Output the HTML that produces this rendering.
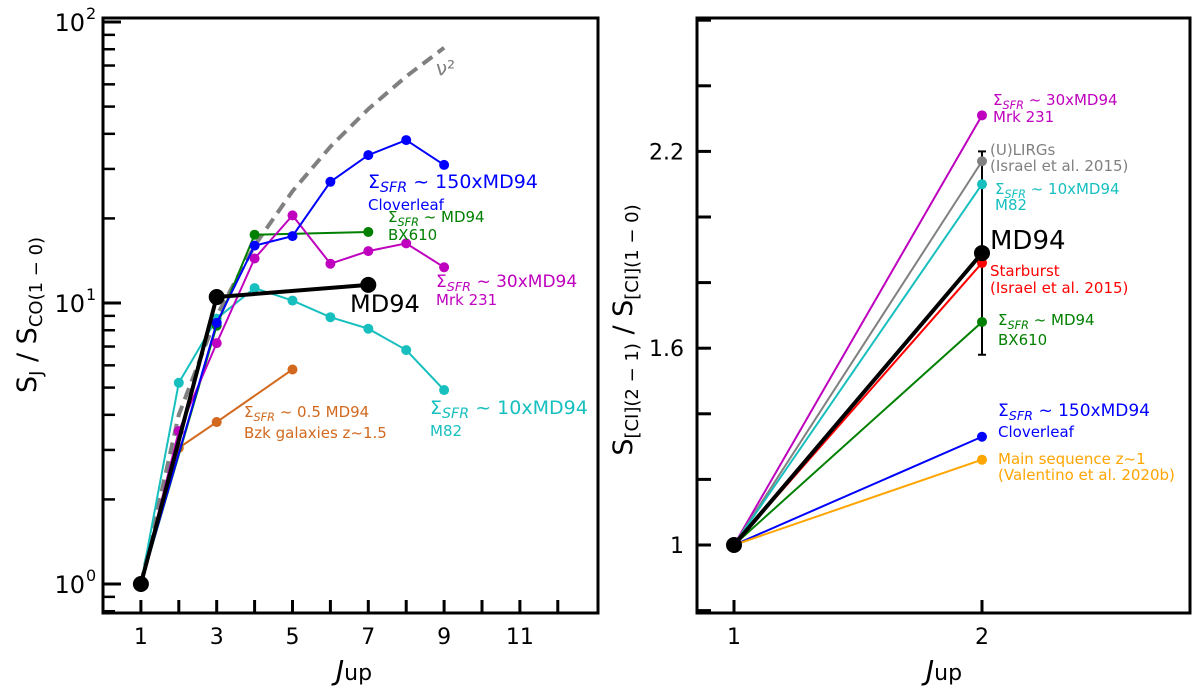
<!DOCTYPE html>
<html><head><meta charset="utf-8"><style>
body{margin:0;background:#fff}
svg{display:block;font-family:"DejaVu Sans","Liberation Sans",sans-serif}
</style></head><body>
<svg id="chart" width="1200" height="687" xmlns="http://www.w3.org/2000/svg"></svg>
<script>
// Left panel data (CO SLED)
const jBlue=[1,3,4,5,6,7,8,9], vBlue=[1,8.5,16,17.3,27,33.6,38,31];
const jGreen=[1,3,4,7], vGreen=[1,8.3,17.5,17.9];
const jMag=[1,2,3,4,5,6,7,8,9], vMag=[1,3.5,7.2,14.4,20.5,13.8,15.3,16.3,13.4];
const jCyan=[1,2,3,4,5,6,7,8,9], vCyan=[1,5.2,8.8,11.3,10.2,8.9,8.1,6.8,4.9];
const jOrange=[1,2,3,5], vOrange=[1,3.05,3.77,5.8];
const jBlack=[1,3,7], vBlack=[1,10.5,11.6];
const jNu=[1,2,3,4,5,6,7,8,9], vNu=[1,4,9,16,25,36,49,64,81];
const xTicksL=[1,3,5,7,9,11];
// Right panel data (CI ratio at J=2)
const rNames=['magenta','gray','cyan','red','green','blue','orange','black'];
const rValues=[2.31,2.17,2.10,1.86,1.68,1.33,1.26,1.89];
const rErr=[1.58,2.20];
const yTicksR=[1,1.6,2.2];

const svg=document.getElementById('chart');
const NS='http://www.w3.org/2000/svg';
function el(t,a,txt){const e=document.createElementNS(NS,t);for(const k in a)e.setAttribute(k,a[k]);if(txt!==undefined)e.textContent=txt;svg.appendChild(e);return e;}

const Lx=j=>103+j*37.9;
const Ly=v=>584-281*Math.log10(v);
const Rx=j=>734+(j-1)*248;
const Ry=v=>545-(v-1)*328;

let f=el('rect',{x:103,y:18,width:495,height:595,fill:'none',stroke:'#000','stroke-width':3});

for(let j=1;j<=12;j++){let t=el('line',{x1:Lx(j),x2:Lx(j),y1:613,y2:600,stroke:'#000','stroke-width':3});
}
xTicksL.forEach(j=>{let t=el('text',{x:Lx(j),y:644,'font-size':22,'text-anchor':'middle'},String(j));
});
for(let d=-1;d<=2;d++)for(let m=1;m<=9;m++){const v=m*Math.pow(10,d);if(v<0.8||v>100)continue;
const major=m===1;let t=el('line',{x1:103,x2:103+(major?18:12),y1:Ly(v),y2:Ly(v),stroke:'#000','stroke-width':major?3:2.5});
}
[[1,'0'],[10,'1'],[100,'2']].forEach(([v,e])=>{let t=el('text',{x:85,y:Ly(v)+9,'font-size':24,'text-anchor':'end'},'10');

let s=el('text',{x:86,y:Ly(v)-3,'font-size':16},e);});

function series(js,vs,color,w,r,name,dash){
  const pts=js.map((j,i)=>Lx(j)+','+Ly(vs[i])).join(' ');
  let p=el('polyline',{points:pts,fill:'none',stroke:color,'stroke-width':w});
  if(dash)p.setAttribute('stroke-dasharray',dash);
  
  if(r)js.forEach((j,i)=>{if(j===1&&name!=='black')return;let c=el('circle',{cx:Lx(j),cy:Ly(vs[i]),r:r,fill:color});
  });
}
series(jNu,vNu,'#808080',4,0,'nu-squared','12,7');
series(jOrange,vOrange,'#d2691e',2,5,'orange');
series(jCyan,vCyan,'#17bfbf',2,5,'cyan');
series(jGreen,vGreen,'#008000',2,5,'green');
series(jMag,vMag,'#bf00bf',2,5,'magenta');
series(jBlue,vBlue,'#0000ff',2,5,'blue');
series(jBlack,vBlack,'#000',4,8,'black');

function lab(x,y,s,size,color,name,sub){
  let t=el('text',{x:x,y:y,'font-size':size,fill:color});
  
  if(sub){t.innerHTML='Σ<tspan font-style="italic" font-size="'+(size*0.75)+'" dy="4">SFR</tspan><tspan dy="-4"> '+s+'</tspan>';}
  else t.textContent=s;
}
lab(436,75,'ν²',20,'#808080','nu-squared-label');
lab(368,188,'~ 150xMD94',19,'#0000ff','blue-label-1',true);
lab(368,210,'Cloverleaf',15,'#0000ff','blue-label-2');
lab(388,222,'~  MD94',15,'#008000','green-label-1',true);
lab(388,240,'BX610',15,'#008000','green-label-2');
lab(436,287,'~ 30xMD94',17,'#bf00bf','magenta-label-1',true);
lab(436,305,'Mrk 231',15,'#bf00bf','magenta-label-2');
lab(350,312,'MD94',24,'#000','black-label');
lab(244,417,'~ 0.5 MD94',15,'#d2691e','orange-label-1',true);
lab(244,438,'Bzk galaxies z~1.5',15,'#d2691e','orange-label-2');
lab(430,414,'~ 10xMD94',19,'#17bfbf','cyan-label-1',true);
lab(430,436,'M82',15,'#17bfbf','cyan-label-2');
let xl=el('text',{x:354,y:680,'font-size':28,'text-anchor':'middle'});xl.innerHTML='<tspan font-style="italic">J</tspan><tspan font-size="22">up</tspan>';

let yl=el('text',{transform:'translate(36,315) rotate(-90)','font-size':27,'text-anchor':'middle'});
yl.innerHTML='S<tspan font-size="18" dy="6">J</tspan><tspan dy="-6"> / S</tspan><tspan font-size="18" dy="6">CO(1 − 0)</tspan>';


let f2=el('rect',{x:697,y:18,width:493,height:595,fill:'none',stroke:'#000','stroke-width':3});

for(let v=0.8;v<=2.61;v+=0.2){let t=el('line',{x1:697,x2:711,y1:Ry(v),y2:Ry(v),stroke:'#000','stroke-width':3});
}
yTicksR.forEach(v=>{let t=el('text',{x:684,y:Ry(v)+8,'font-size':22,'text-anchor':'end'},String(v));
});
[1,2].forEach(j=>{let t=el('line',{x1:Rx(j),x2:Rx(j),y1:613,y2:600,stroke:'#000','stroke-width':3});

let l=el('text',{x:Rx(j),y:644,'font-size':22,'text-anchor':'middle'},String(j));
});
const rColors={magenta:'#bf00bf',gray:'#808080',cyan:'#17bfbf',red:'#ff0000',green:'#008000',blue:'#0000ff',orange:'#ffa500',black:'#000'};
let eb=el('line',{x1:Rx(2),x2:Rx(2),y1:Ry(rErr[0]),y2:Ry(rErr[1]),stroke:'#000','stroke-width':2});

rErr.forEach(v=>{let c=el('line',{x1:Rx(2)-4,x2:Rx(2)+4,y1:Ry(v),y2:Ry(v),stroke:'#000','stroke-width':2});
});
rNames.forEach((n,i)=>{const col=rColors[n];const blk=n==='black';
let l=el('line',{x1:Rx(1),y1:Ry(1),x2:Rx(2),y2:Ry(rValues[i]),stroke:col,'stroke-width':blk?4:2});

let c=el('circle',{cx:Rx(2),cy:Ry(rValues[i]),r:blk?8:5,fill:col});
});
let c1=el('circle',{cx:Rx(1),cy:Ry(1),r:8,fill:'#000'});
lab(993,105,'~ 30xMD94',15,'#bf00bf','r-magenta-label-1',true);
lab(993,122,'Mrk 231',15,'#bf00bf','r-magenta-label-2');
lab(990,155,'(U)LIRGs',15,'#808080','r-gray-label-1');
lab(990,171,'(Israel et al. 2015)',15,'#808080','r-gray-label-2');
lab(995,194,'~ 10xMD94',15,'#17bfbf','r-cyan-label-1',true);
lab(995,210,'M82',15,'#17bfbf','r-cyan-label-2');
lab(990,249,'MD94',26,'#000','r-black-label');
lab(990,276,'Starburst',15,'#ff0000','r-red-label-1');
lab(990,293,'(Israel et al. 2015)',15,'#ff0000','r-red-label-2');
lab(998,325,'~  MD94',15,'#008000','r-green-label-1',true);
lab(998,345,'BX610',15,'#008000','r-green-label-2');
lab(998,416,'~ 150xMD94',17,'#0000ff','r-blue-label-1',true);
lab(998,437,'Cloverleaf',15,'#0000ff','r-blue-label-2');
lab(998,464,'Main sequence z~1',15,'#ffa500','r-orange-label-1');
lab(998,480,'(Valentino et al. 2020b)',15,'#ffa500','r-orange-label-2');
let xl2=el('text',{x:944,y:680,'font-size':28,'text-anchor':'middle'});xl2.innerHTML='<tspan font-style="italic">J</tspan><tspan font-size="22">up</tspan>';

let yl2=el('text',{transform:'translate(632,330) rotate(-90)','font-size':27,'text-anchor':'middle'});
yl2.innerHTML='S<tspan font-size="18" dy="6">[CI](2 − 1)</tspan><tspan dy="-6"> / S</tspan><tspan font-size="18" dy="6">[CI](1 − 0)</tspan>';

</script>
</body></html>
